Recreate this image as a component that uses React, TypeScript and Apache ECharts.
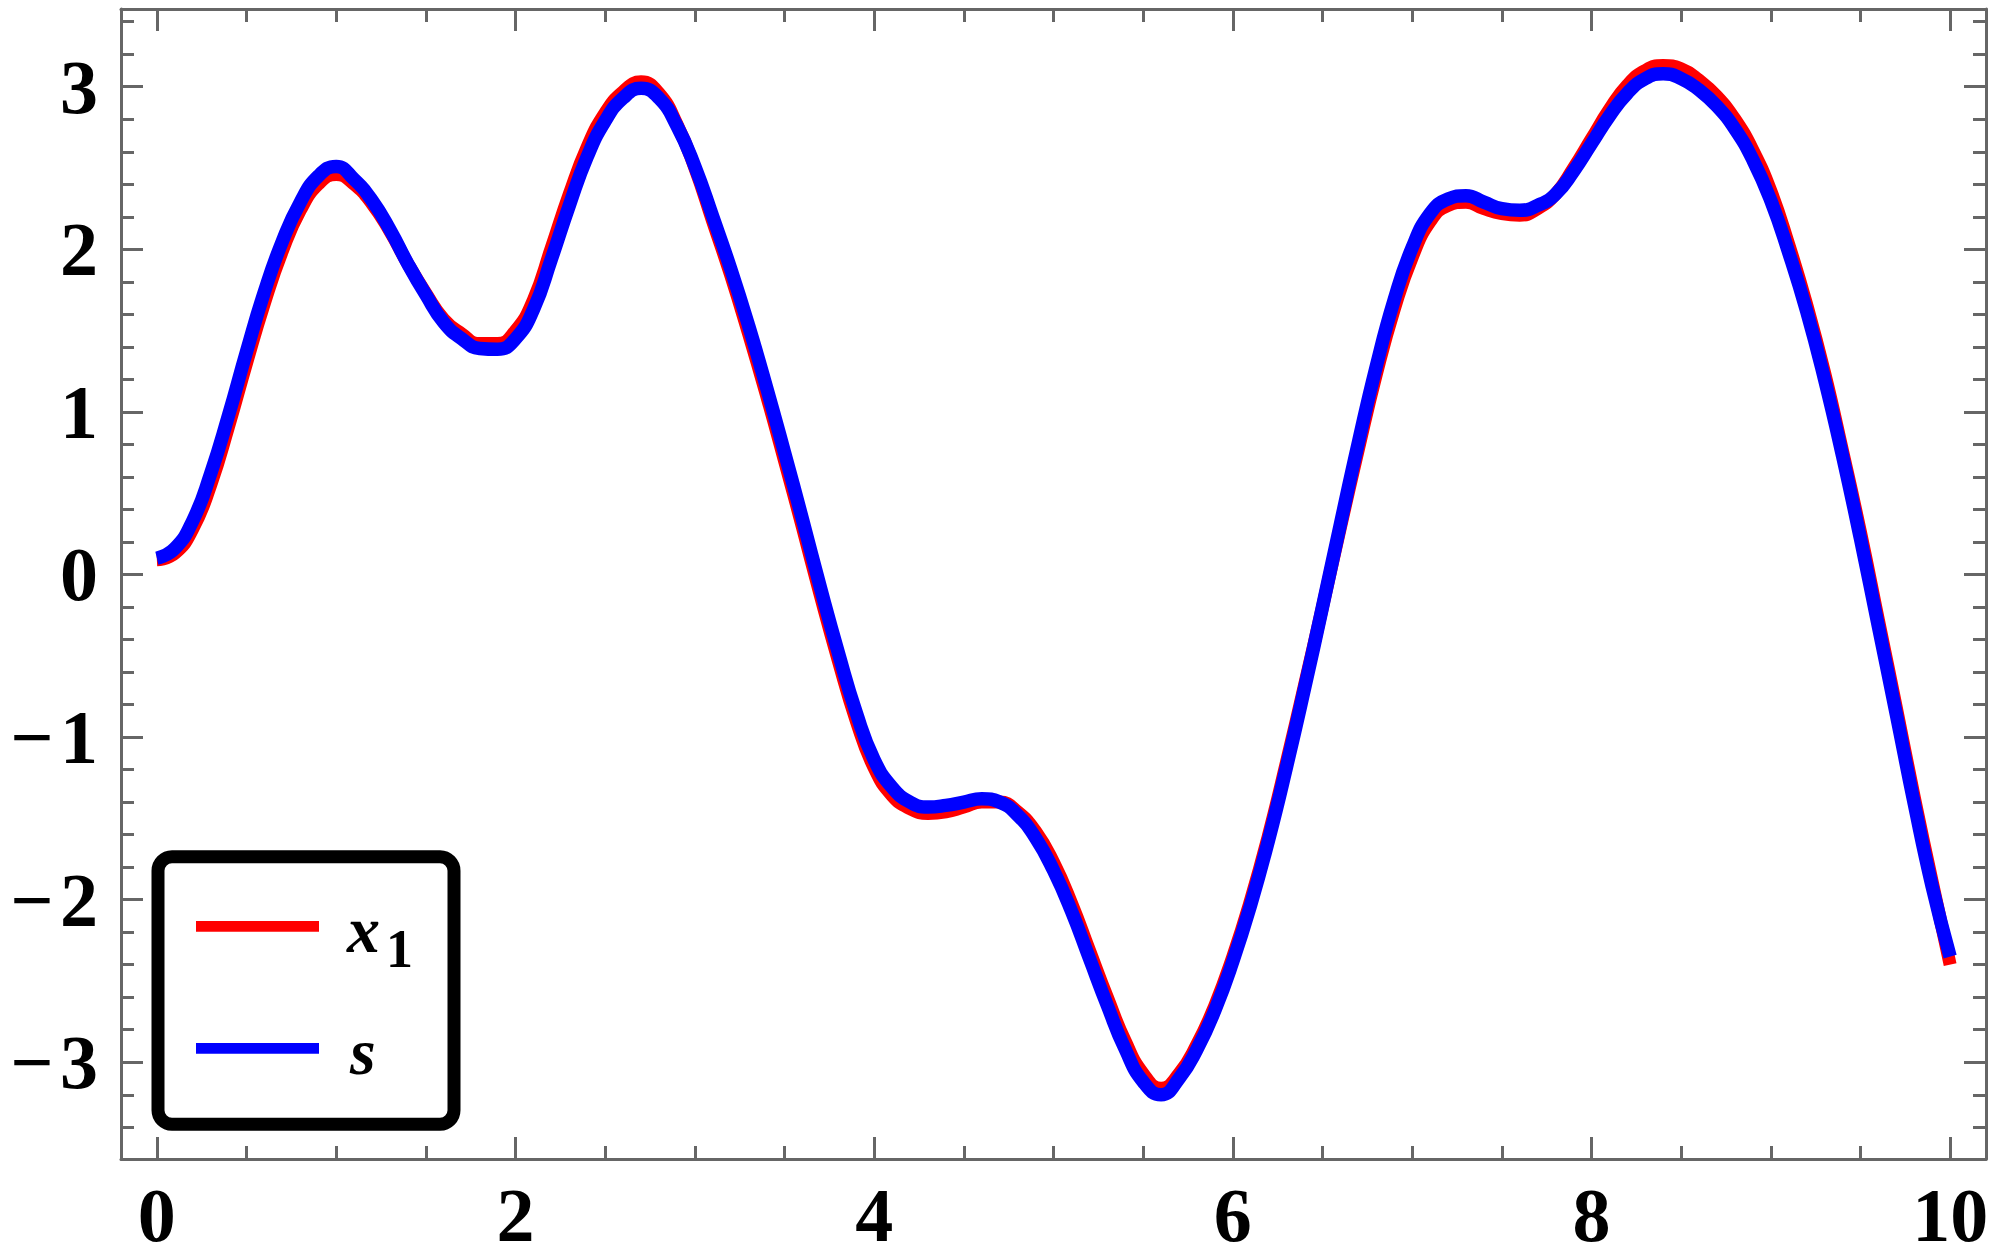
import React, { useEffect, useRef } from "react";
import * as echarts from "echarts";

// ---- data ----
const tValues = [
  0, 0.1, 0.2, 0.3, 0.4, 0.5, 0.6, 0.7, 0.8, 0.9, 1.0, 1.1, 1.2, 1.3, 1.4, 1.5, 1.6, 1.7, 1.8, 1.9,
  2.0, 2.1, 2.2, 2.3, 2.4, 2.5, 2.6, 2.7, 2.8, 2.9, 3.0, 3.1, 3.2, 3.3, 3.4, 3.5, 3.6, 3.7, 3.8, 3.9,
  4.0, 4.1, 4.2, 4.3, 4.4, 4.5, 4.6, 4.7, 4.8, 4.9, 5.0, 5.1, 5.2, 5.3, 5.4, 5.5, 5.6, 5.7, 5.8, 5.9,
  6.0, 6.1, 6.2, 6.3, 6.4, 6.5, 6.6, 6.7, 6.8, 6.9, 7.0, 7.1, 7.2, 7.3, 7.4, 7.5, 7.6, 7.7, 7.8, 7.9,
  8.0, 8.1, 8.2, 8.3, 8.4, 8.5, 8.6, 8.7, 8.8, 8.9, 9.0, 9.1, 9.2, 9.3, 9.4, 9.5, 9.6, 9.7, 9.8, 9.9,
  10.0,
];
const sValues = [
  0.1, 0.16, 0.33, 0.62, 0.98, 1.37, 1.74, 2.05, 2.29, 2.45, 2.51, 2.43, 2.3, 2.12, 1.91, 1.72, 1.55, 1.45, 1.39, 1.385,
  1.45, 1.63, 1.94, 2.27, 2.57, 2.79, 2.93, 2.99, 2.93, 2.76, 2.51, 2.2, 1.88, 1.53, 1.15, 0.75, 0.34, -0.08, -0.48, -0.85,
  -1.14, -1.31, -1.4, -1.43, -1.42, -1.4, -1.38, -1.4, -1.48, -1.62, -1.82, -2.07, -2.36, -2.65, -2.92, -3.12, -3.2, -3.1, -2.92, -2.68,
  -2.38, -2.03, -1.63, -1.18, -0.7, -0.2, 0.31, 0.81, 1.28, 1.69, 2.01, 2.22, 2.31, 2.33, 2.29, 2.25, 2.24, 2.27, 2.34, 2.48,
  2.65, 2.82, 2.96, 3.05, 3.08, 3.05, 2.98, 2.88, 2.74, 2.55, 2.3, 1.98, 1.62, 1.2, 0.73, 0.22, -0.32, -0.86, -1.41, -1.92,
  -2.35,
];
const x1Values = [
  0.09, 0.13, 0.28, 0.55, 0.91, 1.3, 1.67, 1.99, 2.24, 2.4, 2.46, 2.4, 2.28, 2.11, 1.91, 1.73, 1.57, 1.48, 1.42, 1.42,
  1.5, 1.69, 2.01, 2.34, 2.63, 2.84, 2.97, 3.03, 2.96, 2.77, 2.5, 2.17, 1.84, 1.48, 1.1, 0.7, 0.29, -0.13, -0.53, -0.9,
  -1.19, -1.36, -1.44, -1.47, -1.46, -1.43, -1.4, -1.4, -1.46, -1.58, -1.77, -2.02, -2.31, -2.6, -2.87, -3.07, -3.16, -3.07, -2.89, -2.65,
  -2.35, -2.0, -1.6, -1.15, -0.68, -0.2, 0.29, 0.77, 1.23, 1.63, 1.95, 2.17, 2.27, 2.29, 2.25, 2.22, 2.21, 2.25, 2.34, 2.5,
  2.68, 2.86, 3.01, 3.1, 3.13, 3.11, 3.04, 2.94, 2.8, 2.61, 2.36, 2.03, 1.66, 1.24, 0.76, 0.26, -0.28, -0.82, -1.37, -1.89,
  -2.4,
];

const xTicks = [0, 2, 4, 6, 8, 10];
const xTickLabels = ["0", "2", "4", "6", "8", "10"];
const xMinorTicks = [0.5, 1, 1.5, 2.5, 3, 3.5, 4.5, 5, 5.5, 6.5, 7, 7.5, 8.5, 9, 9.5];
const yTicks = [-3, -2, -1, 0, 1, 2, 3];
const yTickLabels = ["\u2212\u200A3", "\u2212\u200A2", "\u2212\u200A1", "0", "1", "2", "3"];
const yMinorTicks = [
  -3.4, -3.2, -2.8, -2.6, -2.4, -2.2, -1.8, -1.6, -1.4, -1.2, -0.8, -0.6, -0.4, -0.2, 0.2, 0.4, 0.6, 0.8,
  1.2, 1.4, 1.6, 1.8, 2.2, 2.4, 2.6, 2.8, 3.2, 3.4,
];
const seriesNames = ["x1", "s"];

// ---- styling ----
const FRAME = "#666666";
const SERIF = "'Times New Roman', 'Liberation Serif', Tinos, Times, serif";
const X_MIN = -0.2;
const X_MAX = 10.2;
const Y_MIN = -3.595;
const Y_MAX = 3.478;
const LABEL_FONT = {
  color: "#000",
  fontFamily: SERIF,
  fontWeight: "bold" as const,
  fontSize: 76,
};

function axis(
  kind: "x" | "y",
  position: string,
  ticks: number[],
  tickLen: number,
  showLine: boolean,
  labels: string[] | null
) {
  const isX = kind === "x";
  return {
    type: "value",
    position,
    min: isX ? X_MIN : Y_MIN,
    max: isX ? X_MAX : Y_MAX,
    axisLine: { show: showLine, onZero: false, lineStyle: { color: FRAME, width: 3 } },
    axisTick: {
      show: true,
      inside: true,
      length: tickLen,
      customValues: ticks,
      lineStyle: { color: FRAME, width: 3 },
    },
    axisLabel: labels
      ? {
          show: true,
          customValues: ticks,
          margin: isX ? 18 : 23,
          ...LABEL_FONT,
          formatter: (v: number) => {
            const i = ticks.indexOf(v);
            return i >= 0 ? labels[i] : String(v);
          },
        }
      : { show: false },
    splitLine: { show: false },
    minorTick: { show: false },
  };
}

export default function App() {
  const ref = useRef<HTMLDivElement>(null);
  useEffect(() => {
    const chart = echarts.init(ref.current!, null, { renderer: "svg" });
    const sData = tValues.map((t, i) => [t, sValues[i]]);
    const xData = tValues.map((t, i) => [t, x1Values[i]]);
    chart.setOption({
      animation: false,
      backgroundColor: "#ffffff",
      grid: { left: 121, right: 17, top: 9, bottom: 98, containLabel: false, outerBoundsMode: "none" },
      xAxis: [
        axis("x", "bottom", xTicks, 22, true, xTickLabels),
        axis("x", "bottom", xMinorTicks, 13, false, null),
        axis("x", "top", xTicks, 22, true, null),
        axis("x", "top", xMinorTicks, 13, false, null),
      ],
      yAxis: [
        axis("y", "left", yTicks, 22, true, yTickLabels),
        axis("y", "left", yMinorTicks, 13, false, null),
        axis("y", "right", yTicks, 22, true, null),
        axis("y", "right", yMinorTicks, 13, false, null),
      ],
      series: [
        {
          name: seriesNames[0],
          type: "line",
          data: xData,
          xAxisIndex: 0,
          yAxisIndex: 0,
          smooth: 0.5,
          showSymbol: false,
          lineStyle: { color: "#ff0000", width: 13, cap: "butt", join: "round" },
          z: 2,
        },
        {
          name: seriesNames[1],
          type: "line",
          data: sData,
          xAxisIndex: 0,
          yAxisIndex: 0,
          smooth: 0.5,
          showSymbol: false,
          lineStyle: { color: "#0000ff", width: 13.5, cap: "butt", join: "round" },
          z: 3,
        },
      ],
      graphic: [
        {
          type: "rect",
          z: 100,
          shape: { x: 158, y: 856.7, width: 296, height: 267.5, r: 14 },
          style: { fill: "#ffffff", stroke: "#000000", lineWidth: 13 },
        },
        {
          type: "line",
          z: 101,
          shape: { x1: 196, y1: 926.3, x2: 319, y2: 926.3 },
          style: { stroke: "#ff0000", lineWidth: 10.7 },
        },
        {
          type: "line",
          z: 101,
          shape: { x1: 196, y1: 1048.3, x2: 319, y2: 1048.3 },
          style: { stroke: "#0000ff", lineWidth: 10.7 },
        },
        {
          type: "text",
          z: 101,
          x: 347,
          y: 929.5,
          style: {
            text: "x",
            font: "italic bold 66px " + SERIF,
            fill: "#000",
            align: "left",
            verticalAlign: "middle",
          },
        },
        {
          type: "text",
          z: 101,
          x: 386,
          y: 948.5,
          style: {
            text: "1",
            font: "bold 54px " + SERIF,
            fill: "#000",
            align: "left",
            verticalAlign: "middle",
          },
        },
        {
          type: "text",
          z: 101,
          x: 350,
          y: 1051,
          style: {
            text: "s",
            font: "italic bold 66px " + SERIF,
            fill: "#000",
            align: "left",
            verticalAlign: "middle",
          },
        },
      ],
    });
    return () => chart.dispose();
  }, []);
  return (
    <div
      ref={ref}
      style={{ position: "absolute", left: 0, top: 0, width: 2003, height: 1257, background: "#fff" }}
    />
  );
}
